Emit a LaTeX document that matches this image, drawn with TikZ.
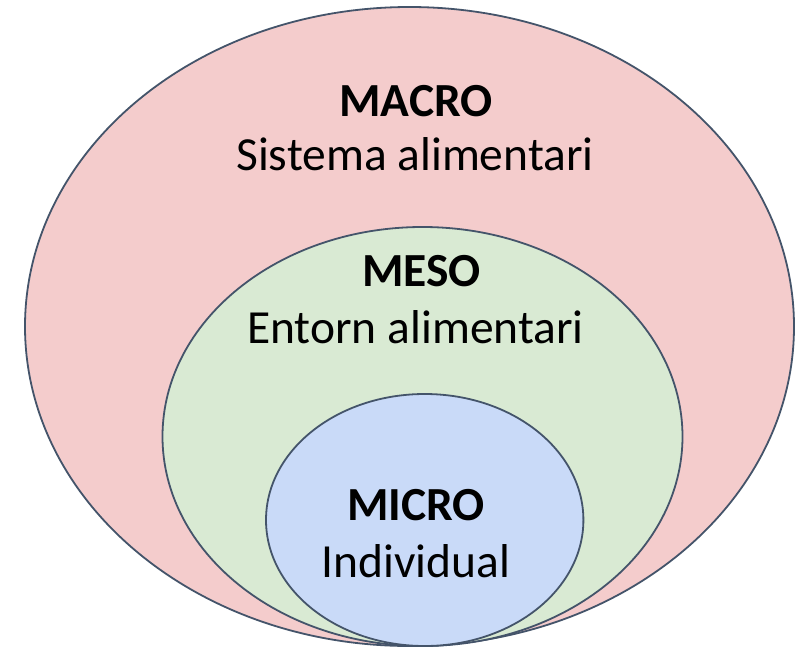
\documentclass[tikz,border=0pt]{standalone}
\usepackage{fontspec}
\setmainfont{Carlito}
\definecolor{macrofill}{HTML}{F4CCCC}
\definecolor{mesofill}{HTML}{D9EAD3}
\definecolor{microfill}{HTML}{C9DAF8}
\definecolor{edge}{HTML}{44546A}
\begin{document}
\begin{tikzpicture}[x=1pt,y=-1pt,
  ring/.style={draw=edge,line width=1.8pt},
  title/.style={font=\fontsize{47.5}{57}\selectfont\bfseries,anchor=base,inner sep=0pt},
  sub/.style={font=\fontsize{47.5}{57}\selectfont,anchor=base,inner sep=0pt}]
\useasboundingbox (0,0) rectangle (795,648);
\fill[white] (0,0) rectangle (795,648);
\draw[ring,fill=macrofill] (409.5,326.5) ellipse [x radius=384.5pt, y radius=319.5pt];
\draw[ring,fill=mesofill] (422.5,436.5) ellipse [x radius=260pt, y radius=209.5pt];
\draw[ring,fill=microfill] (424.7,520) ellipse [x radius=158.7pt, y radius=126pt];
\node[title] (macro) at (416,116.7) {MACRO};
\node[sub] (macrosub) at (415,170) {Sistema alimentari};
\node[title] (meso) at (421.5,286) {MESO};
\node[sub] (mesosub) at (415.5,343) {Entorn alimentari};
\node[title] (micro) at (416,520) {MICRO};
\node[sub] (microsub) at (416,577) {Individual};
\end{tikzpicture}
\end{document}
